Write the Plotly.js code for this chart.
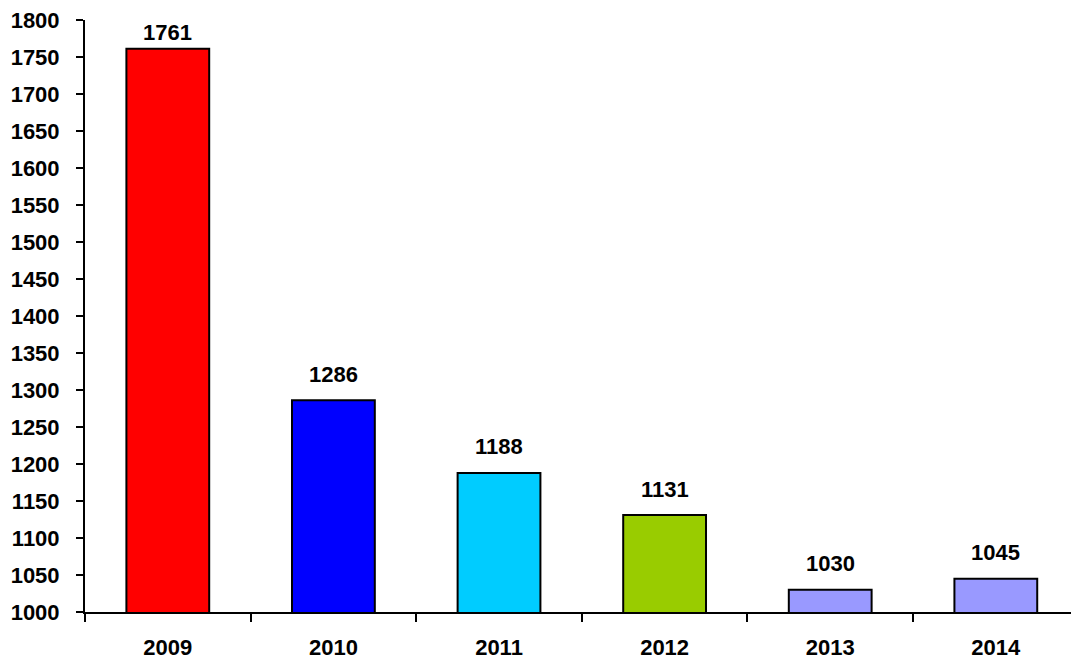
<!DOCTYPE html>
<html><head><meta charset="utf-8">
<script src="https://cdn.plot.ly/plotly-3.0.1.min.js"></script>
<style>body{margin:0;padding:0;background:#fff}#chart{width:1071px;height:664px}</style>
</head><body><div id="chart"></div>
<script>
const years = ['2009','2010','2011','2012','2013','2014'];
const values = [1761, 1286, 1188, 1131, 1030, 1045];
const barColors = ['#FF0000','#0000FF','#00CCFF','#99CC00','#9999FF','#9999FF'];
const yTicks = [1000,1050,1100,1150,1200,1250,1300,1350,1400,1450,1500,1550,1600,1650,1700,1750,1800];

const fam = '"Liberation Sans", Arial, sans-serif';
const annotations = years.map((y,i)=>({
  x:i, y:values[i], xref:'x', yref:'y', text:'<b>'+values[i]+'</b>', showarrow:false,
  yanchor:'middle', xanchor:'center', yshift: values[i] > 1700 ? 16 : 26,
  font:{family:fam, size:22, color:'#000'}
}));
const trace = {
  type:'bar', x:years, y:values, width:0.5,
  marker:{color:barColors, line:{color:'#000', width:2}},
  hoverinfo:'none'
};
const layout = {
  width:1071, height:664,
  margin:{l:85, r:0, t:20, b:52},
  paper_bgcolor:'#fff', plot_bgcolor:'#fff',
  showlegend:false, font:{family:fam, size:22, color:'#000'},
  xaxis:{type:'category', range:[-0.5, 5.454], showgrid:false, zeroline:false,
    showline:true, linecolor:'#000', linewidth:2, ticks:'outside', tickson:'boundaries',
    ticklen:8, tickwidth:2, tickcolor:'#000', ticklabelstandoff:15,
    tickvals:years, ticktext:years.map(s=>'<b>'+s+'</b>'),
    tickfont:{family:fam, size:22, color:'#000'}},
  yaxis:{range:[1000,1800], tickvals:yTicks, ticktext:yTicks.map(v=>'<b>'+v+'</b>'), showgrid:false, zeroline:false,
    showline:true, linecolor:'#000', linewidth:2, ticks:'outside', ticklen:7, tickwidth:2, tickcolor:'#000',
    ticklabelstandoff:12,
    tickfont:{family:fam, size:22, color:'#000'}},
  annotations:annotations
};
Plotly.newPlot('chart',[trace],layout,{staticPlot:true});
</script></body></html>
